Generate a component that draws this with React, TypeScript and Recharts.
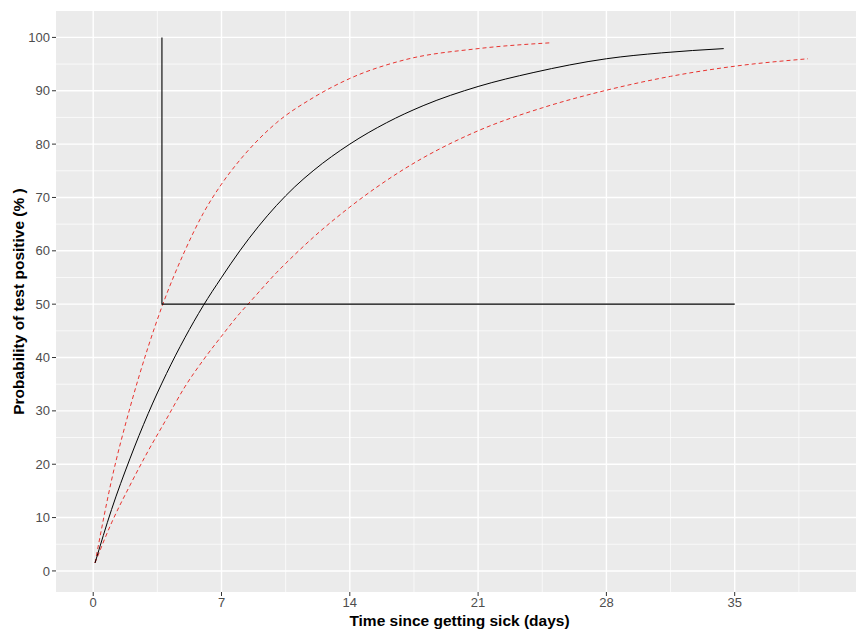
import { LineChart, Line, XAxis, YAxis, CartesianGrid } from 'recharts';

// days / probability (%)
const medianDays = [0.1, 1, 2, 3, 4, 5, 6, 7, 8, 9, 10, 11, 12, 14, 16, 18, 21, 24, 28, 31, 34.4];
const medianProb = [1.5, 11.5, 21, 29.5, 37, 43.7, 49.7, 55, 60, 64.5, 68.5, 72, 75, 80, 84, 87.2, 90.8, 93.4, 96, 97.1, 97.9];

const upperDays = [0.1, 1, 2, 3, 3.8, 5, 6, 7, 8, 9, 10, 12, 14, 17, 21, 25];
const upperProb = [1.5, 17, 30.5, 42, 50, 60, 67, 72.5, 77, 80.8, 84, 88.7, 92.3, 95.8, 97.9, 99];

const lowerDays = [0.1, 1, 2, 3, 4, 5, 6, 7, 8, 8.5, 10, 11, 12, 14, 17, 21, 24.5, 28, 31.5, 35, 39];
const lowerProb = [1.5, 9, 16, 22.5, 28.5, 34.5, 39.5, 44, 48.3, 50.2, 55.9, 59.3, 62.5, 68.2, 75.4, 82.5, 86.8, 90.1, 92.7, 94.6, 96];

// reference guide: vertical at ~3.75 days up from 50%, then flat at 50% to day 35
const guideDays = [3.75, 3.75, 35];
const guideProb = [100, 50, 50];

const xTicks = [0, 7, 14, 21, 28, 35];
const xMinor = [3.5, 10.5, 17.5, 24.5, 31.5, 38.5];
const yTicks = [0, 10, 20, 30, 40, 50, 60, 70, 80, 90, 100];
const yMinor = [5, 15, 25, 35, 45, 55, 65, 75, 85, 95];

const toPoints = (xs: number[], ys: number[]) => xs.map((x, i) => ({ x, y: ys[i] }));

const FONT = '"Liberation Sans", Arial, sans-serif';

const YTitle = (props: any) => {
  const vb = props.viewBox || {};
  const cx = 18;
  const cy = vb.y + vb.height / 2;
  return (
    <text
      x={cx}
      y={cy}
      transform={`rotate(-90 ${cx} ${cy})`}
      textAnchor="middle"
      dominantBaseline="central"
      fontFamily={FONT}
      fontWeight="bold"
      fontSize={15.5}
      fill="#000"
    >
      Probability of test positive (% )
    </text>
  );
};

export default function App() {
  const tick = { fontSize: 13, fill: '#4D4D4D', fontFamily: FONT };
  return (
    <div style={{ position: 'absolute', left: 0, top: 0, width: 856, height: 630, overflow: 'hidden', background: '#fff' }}>
      <LineChart width={863} height={630} margin={{ top: 11, right: 0, bottom: 0, left: 0 }}>
        <CartesianGrid
          fill="#EBEBEB"
          fillOpacity={1}
          stroke="#FFFFFF"
          strokeWidth={0.7}
          verticalValues={xMinor}
          horizontalValues={yMinor}
        />
        <CartesianGrid
          stroke="#FFFFFF"
          strokeWidth={1.4}
          verticalValues={xTicks}
          horizontalValues={yTicks}
        />
        <XAxis
          type="number"
          dataKey="x"
          domain={[-2.03, 42]}
          ticks={xTicks}
          allowDataOverflow
          height={38}
          axisLine={false}
          tickLine={{ stroke: '#333333' }}
          tickSize={4}
          tickMargin={2}
          tick={tick}
          label={{
            value: 'Time since getting sick (days)',
            position: 'insideBottom',
            offset: 4,
            fontFamily: FONT,
            fontWeight: 'bold',
            fontSize: 15.5,
            fill: '#000',
          }}
        />
        <YAxis
          type="number"
          dataKey="y"
          domain={[-3.95, 104.95]}
          ticks={yTicks}
          allowDataOverflow
          width={56}
          axisLine={false}
          tickLine={{ stroke: '#333333' }}
          tickSize={4}
          tickMargin={2}
          tick={tick}
          label={<YTitle />}
        />
        <Line
          data={toPoints(upperDays, upperProb)}
          dataKey="y"
          type="monotone"
          stroke="#E8332F"
          strokeWidth={1}
          strokeDasharray="4 3"
          dot={false}
          isAnimationActive={false}
        />
        <Line
          data={toPoints(lowerDays, lowerProb)}
          dataKey="y"
          type="monotone"
          stroke="#E8332F"
          strokeWidth={1}
          strokeDasharray="4 3"
          dot={false}
          isAnimationActive={false}
        />
        <Line
          data={toPoints(medianDays, medianProb)}
          dataKey="y"
          type="monotone"
          stroke="#000000"
          strokeWidth={1}
          dot={false}
          isAnimationActive={false}
        />
        <Line
          data={toPoints(guideDays, guideProb)}
          dataKey="y"
          type="linear"
          stroke="#000000"
          strokeWidth={1.1}
          dot={false}
          isAnimationActive={false}
        />
      </LineChart>
    </div>
  );
}
